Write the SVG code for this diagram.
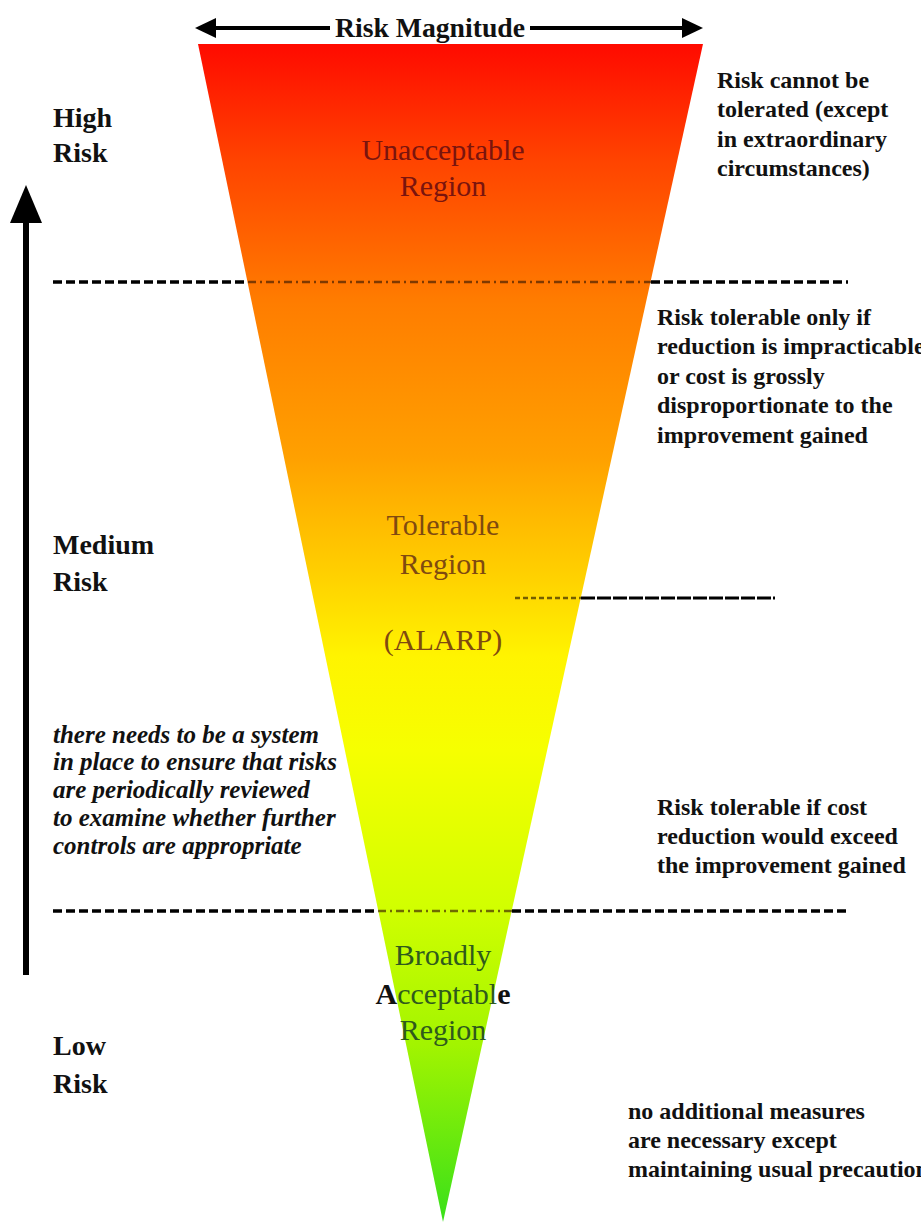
<svg xmlns="http://www.w3.org/2000/svg" width="921" height="1222" viewBox="0 0 921 1222">
<style>
.lbl{font-family:"Liberation Serif","Times New Roman",serif;font-weight:bold;font-size:28px;fill:#111}
.note{font-family:"Liberation Serif","Times New Roman",serif;font-weight:bold;font-size:24px;fill:#111}
.ital{font-family:"Liberation Serif","Times New Roman",serif;font-weight:bold;font-style:italic;font-size:25px;fill:#111}
.reg{font-family:"Liberation Serif","Times New Roman",serif;font-size:30px;text-anchor:middle}
.dash{stroke:#000;stroke-width:3.5;stroke-dasharray:9 4;fill:none}
.dashin{stroke:#3a1a00;stroke-width:2.5;stroke-dasharray:8 4 2 4;fill:none;opacity:0.65}
</style>
<defs>
<linearGradient id="g" gradientUnits="userSpaceOnUse" x1="0" y1="44" x2="0" y2="1222">
<stop offset="0" stop-color="#ff0a00"/>
<stop offset="0.10" stop-color="#ff4400"/>
<stop offset="0.22" stop-color="#ff7d00"/>
<stop offset="0.35" stop-color="#ffa000"/>
<stop offset="0.45" stop-color="#ffd000"/>
<stop offset="0.52" stop-color="#fff400"/>
<stop offset="0.60" stop-color="#f6ff00"/>
<stop offset="0.73" stop-color="#d2ff00"/>
<stop offset="0.85" stop-color="#a2f400"/>
<stop offset="1" stop-color="#38e01a"/>
</linearGradient>
</defs>
<rect width="921" height="1222" fill="#fff"/>

<g id="triangle">
<polygon points="198,44 703,44 443,1222" fill="url(#g)"/>
</g>

<g id="connectors">
<line x1="212" y1="28" x2="330" y2="28" stroke="#000" stroke-width="4"/>
<line x1="530" y1="28" x2="688" y2="28" stroke="#000" stroke-width="4"/>
<polygon points="195,28 216,18 216,38" fill="#000"/>
<polygon points="703,28 682,18 682,38" fill="#000"/>
<line x1="26" y1="218" x2="26" y2="975" stroke="#000" stroke-width="6"/>
<polygon points="26,185 10,223 42,223" fill="#000"/>
<line class="dash" x1="53" y1="282" x2="248" y2="282"/>
<line class="dashin" x1="248" y1="282" x2="651" y2="282"/>
<line class="dash" x1="651" y1="282" x2="848" y2="282"/>
<line class="dash" x1="53" y1="911" x2="378" y2="911"/>
<line class="dashin" x1="378" y1="911" x2="512" y2="911"/>
<line class="dash" x1="512" y1="911" x2="848" y2="911"/>
<line x1="515" y1="598" x2="581" y2="598" stroke="#3a2a00" stroke-width="2.5" stroke-dasharray="5 3" opacity="0.7"/>
<line x1="581" y1="598" x2="775" y2="598" stroke="#000" stroke-width="3" stroke-dasharray="14 2"/>
</g>

<g id="title">
<text x="430" y="37" class="lbl" text-anchor="middle" textLength="190" lengthAdjust="spacingAndGlyphs">Risk Magnitude</text>
</g>

<g id="unacceptable">
<text class="reg" fill="#7a140e" x="443" y="160">Unacceptable</text>
<text class="reg" fill="#7a140e" x="443" y="196">Region</text>
</g>
<g id="tolerable">
<text class="reg" fill="#7f4a10" x="443" y="535">Tolerable</text>
<text class="reg" fill="#7f4a10" x="443" y="574">Region</text>
<text class="reg" fill="#7f4a10" x="443" y="650">(ALARP)</text>
</g>
<g id="broadly">
<text class="reg" fill="#2f5a1c" x="443" y="965">Broadly</text>
<text class="reg" fill="#2f5a1c" x="443" y="1004"><tspan fill="#111" font-weight="bold">A</tspan>cceptabl<tspan fill="#111" font-weight="bold">e</tspan></text>
<text class="reg" fill="#2f5a1c" x="443" y="1040">Region</text>
</g>

<g id="high-risk">
<text class="lbl" x="53" y="127">High</text>
<text class="lbl" x="53" y="162">Risk</text>
</g>
<g id="medium-risk">
<text class="lbl" x="53" y="554">Medium</text>
<text class="lbl" x="53" y="591">Risk</text>
</g>
<g id="low-risk">
<text class="lbl" x="53" y="1055">Low</text>
<text class="lbl" x="53" y="1093">Risk</text>
</g>

<g id="review-note">
<text class="ital" x="53" y="743">there needs to be a system</text>
<text class="ital" x="53" y="770">in place to ensure that risks</text>
<text class="ital" x="53" y="798">are periodically reviewed</text>
<text class="ital" x="53" y="826">to examine whether further</text>
<text class="ital" x="53" y="854">controls are appropriate</text>
</g>

<g id="note-unacceptable">
<text class="note" x="717" y="88">Risk cannot be</text>
<text class="note" x="717" y="117">tolerated (except</text>
<text class="note" x="717" y="147">in extraordinary</text>
<text class="note" x="717" y="176">circumstances)</text>
</g>
<g id="note-tolerable-upper">
<text class="note" x="657" y="325">Risk tolerable only if</text>
<text class="note" x="657" y="354">reduction is impracticable</text>
<text class="note" x="657" y="384">or cost is grossly</text>
<text class="note" x="657" y="413">disproportionate to the</text>
<text class="note" x="657" y="443">improvement gained</text>
</g>
<g id="note-tolerable-lower">
<text class="note" x="657" y="815">Risk tolerable if cost</text>
<text class="note" x="657" y="844">reduction would exceed</text>
<text class="note" x="657" y="873">the improvement gained</text>
</g>
<g id="note-acceptable">
<text class="note" x="628" y="1119">no additional measures</text>
<text class="note" x="628" y="1148">are necessary except</text>
<text class="note" x="628" y="1177">maintaining usual precautions</text>
</g>
</svg>
